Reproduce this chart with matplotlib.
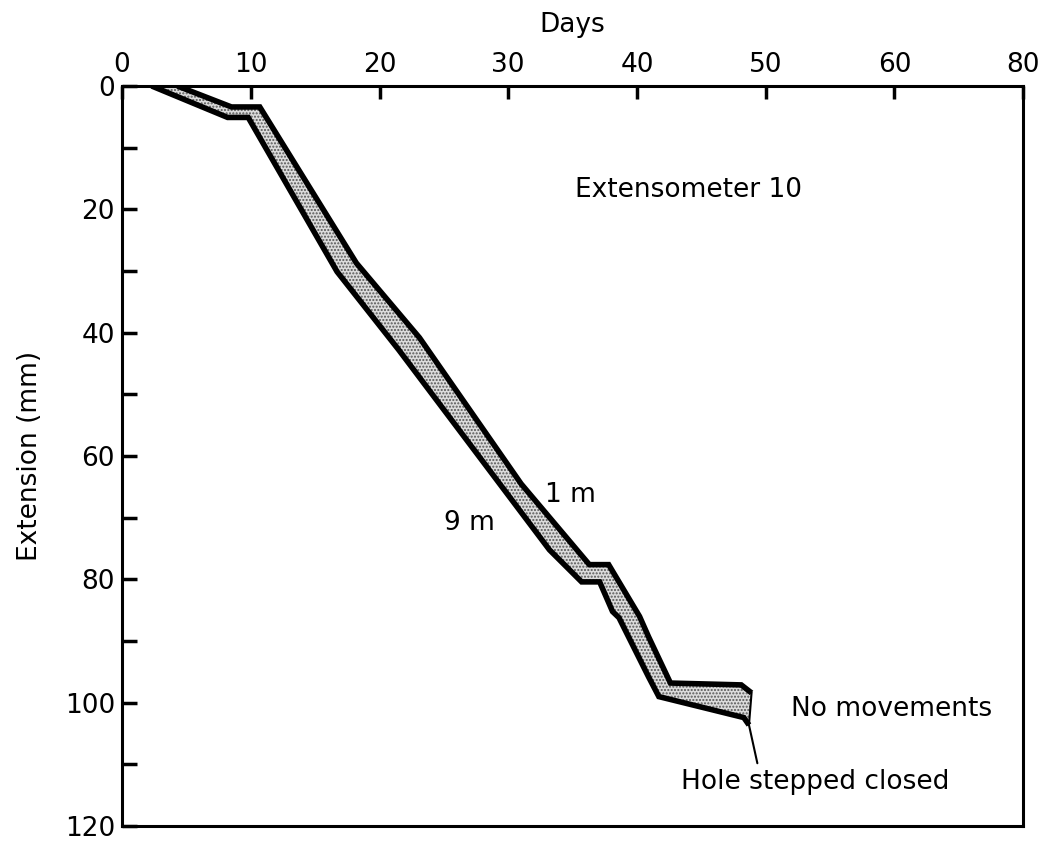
import matplotlib.pyplot as plt

# 1 m anchor (upper curve) and 9 m anchor (lower curve)
days_1m = [4.3, 8.5, 10.7, 18.2, 23.1, 31.0, 36.3, 37.8, 40.2, 40.9, 42.6, 48.1, 48.9]
ext_1m = [0.0, 3.4, 3.4, 28.7, 40.8, 64.5, 77.6, 77.6, 86.0, 89.3, 96.8, 97.1, 98.4]
days_9m = [2.3, 8.2, 9.8, 16.7, 21.5, 33.2, 35.7, 37.1, 38.1, 38.6, 40.9, 41.7, 48.3, 48.7]
ext_9m = [0.0, 5.1, 5.1, 30.1, 42.8, 75.2, 80.4, 80.4, 85.2, 86.2, 95.8, 99.0, 102.4, 103.6]

xticks = [0, 10, 20, 30, 40, 50, 60, 70]
xlabels = ['0', '10', '20', '30', '40', '50', '60', '80']
yticks = [0, 20, 40, 60, 80, 100, 120]

plt.rcParams['font.family'] = ['DejaVu Sans']
plt.rcParams['hatch.linewidth'] = 1.0
FS = 19

fig = plt.figure(figsize=(10.43, 8.43), dpi=100)
ax = fig.add_axes([0.117, 0.020, 0.864, 0.878])

# stippled band between the two anchors
band_x = days_1m + days_9m[::-1]
band_y = ext_1m + ext_9m[::-1]
ax.fill(band_x, band_y, facecolor='#dcdcdc', edgecolor='#555555', hatch='.....', linewidth=0)

ax.plot(days_1m, ext_1m, color='black', lw=4, solid_joinstyle='miter', solid_capstyle='butt')
ax.plot(days_9m, ext_9m, color='black', lw=4, solid_joinstyle='miter', solid_capstyle='butt')
# closing edge at the end of the band
ax.plot([days_1m[-1], days_9m[-1]], [ext_1m[-1], ext_9m[-1]], color='black', lw=1.5)

ax.set_xlim(0, 70)
ax.set_ylim(120, 0)
ax.xaxis.tick_top()
ax.xaxis.set_label_position('top')
ax.set_xticks(xticks)
ax.set_xticklabels(xlabels)
ax.set_yticks(yticks)
ax.set_yticks([10, 30, 50, 70, 90, 110], minor=True)
ax.tick_params(axis='x', direction='in', length=9, width=2.5, labelsize=FS, pad=6)
ax.tick_params(axis='y', which='both', direction='in', length=11, width=2.5, labelsize=FS, pad=5)
ax.set_xlabel('Days', fontsize=FS, labelpad=14)
ax.set_ylabel('Extension (mm)', fontsize=FS, labelpad=16)
for s in ax.spines.values():
    s.set_linewidth(2.2)

ax.text(44, 16.9, 'Extensometer 10', fontsize=FS, ha='center', va='center')
ax.text(34.8, 66.3, '1 m', fontsize=FS, ha='center', va='center')
ax.text(27.0, 70.8, '9 m', fontsize=FS, ha='center', va='center')
ax.text(52, 101, 'No movements', fontsize=FS, ha='left', va='center')
ax.annotate('Hole stepped closed', xy=(48.7, 103.6), xytext=(43.4, 112.8),
            fontsize=FS, ha='left', va='center',
            arrowprops=dict(arrowstyle='-', color='black', lw=1.5,
                            relpos=(0.29, 1.0), shrinkA=2, shrinkB=0))

fig.savefig('out.png', dpi=100)
